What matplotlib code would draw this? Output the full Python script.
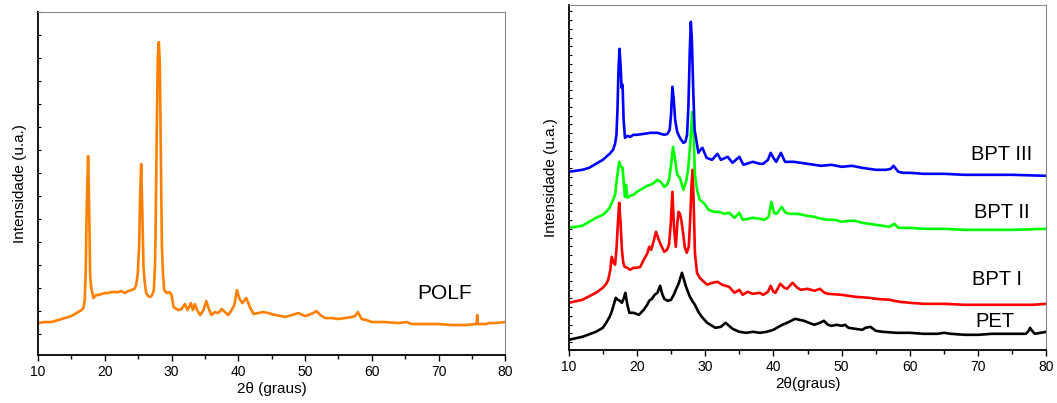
import matplotlib.pyplot as plt
import numpy as np

plt.rcParams['font.family'] = ['Liberation Sans', 'DejaVu Sans']

# ---- painel esquerdo: POLF (intensidade em unidades arbitrárias) ----
polf_x = [10, 11, 12, 13, 14, 15, 16, 16.5, 16.8, 17.0, 17.15, 17.3, 17.5, 17.65, 17.8, 17.95,
          18.3, 18.7, 19, 19.5, 20, 20.5, 21, 21.5, 22, 22.5, 23, 23.5, 24, 24.4, 24.7, 24.95,
          25.15, 25.3, 25.45, 25.6, 25.8, 26.0, 26.2, 26.5, 26.8, 27.1, 27.35, 27.55, 27.8,
          27.95, 28.1, 28.25, 28.4, 28.55, 28.7, 28.9, 29.3, 29.7, 30.0, 30.3, 31, 31.5, 32,
          32.4, 32.9, 33.2, 33.5, 33.9, 34.3, 34.8, 35.2, 35.6, 36, 36.5, 37, 37.5, 38, 38.5,
          39.0, 39.4, 39.8, 40.2, 40.6, 41.2, 41.8, 42.3, 43, 43.7, 44.5, 45.5, 46.5, 47, 48,
          49, 50, 50.5, 51.2, 51.7, 52.3, 53, 54, 55, 56, 57, 57.5, 57.9, 58.5, 59.2, 60, 62,
          64, 65.2, 66, 68, 70, 72, 74, 75.7, 75.8, 75.9, 77, 77.6, 78.5, 80]
polf_y = [32, 33, 33, 35, 37, 39, 43, 45, 47, 55, 85, 150, 199, 150, 80, 68,
          57, 60, 60, 61, 62, 62, 63, 63, 63, 64, 62, 64, 65, 66, 70, 82,
          110, 160, 191, 150, 88, 72, 62, 59, 58, 60, 65, 95, 230,
          300, 313, 290, 200, 110, 83, 65, 62, 63, 60, 48, 45, 46, 51,
          45, 52, 45, 51, 44, 40, 45, 54, 46, 40, 43, 42, 46, 43, 40,
          45, 50, 65, 56, 52, 57, 47, 41, 42, 43, 42, 40, 39, 38, 40,
          42, 39, 40, 42, 44, 40, 37, 37, 36, 37, 38, 39, 43, 36, 35, 33, 33,
          32, 33, 31, 31, 31, 30, 30, 31, 40, 31, 31, 32, 32, 33]

# ---- painel direito: PET e BPT (curvas já deslocadas) ----
pet_x = [10, 12, 14, 15, 15.5, 16, 16.3, 16.6, 16.9, 17.2, 17.5, 17.8, 18.1, 18.3, 18.6, 18.9,
         19.5, 20.3, 21, 21.5, 21.8, 22.2, 22.6, 23.0, 23.4, 23.7, 24, 24.5, 25, 25.4, 25.7,
         26.1, 26.6, 26.9, 27.2, 27.7, 28.1, 28.5, 29, 29.5, 30.3, 31, 31.5, 32.3, 33, 33.5,
         34, 35, 36, 37, 38, 39, 40, 40.5, 41.3, 42, 42.6, 43.2, 43.8, 44.5, 45.2, 46,
         46.8, 47.4, 48, 48.5, 49.3, 50, 50.5, 51, 52, 53, 53.5, 54.2, 55, 56, 58, 60, 62,
         64, 65, 66, 68, 70, 72, 74, 76, 77, 77.4, 77.6, 77.9, 78.3, 80]
pet_y = [10, 13, 18, 22, 27, 33, 38, 45, 52, 50, 49, 47, 52, 57, 45, 37,
         37, 35, 40, 45, 49, 51, 55, 57, 64, 56, 51, 49, 50, 55, 60,
         66, 77, 70, 63, 54, 49, 45, 38, 33, 27, 24, 22, 23, 27, 24,
         21, 18, 17, 18, 17, 18, 20, 22, 25, 27, 29, 31, 30, 29, 27, 25,
         27, 29, 25, 24, 25, 24, 25, 22, 21, 20, 22, 23, 19, 18, 17, 17, 16,
         16, 17, 16, 15, 15, 16, 16, 16, 16, 19, 22, 19, 16, 18]

bpt1_x = [10, 12, 14, 15, 15.5, 15.8, 16.1, 16.3, 16.6, 16.8, 17.0, 17.2, 17.4, 17.6, 17.8,
          18.0, 18.2, 18.6, 19, 19.5, 20, 20.5, 21, 21.5, 21.8, 22.1, 22.5, 22.8, 23.1, 23.5,
          24, 24.4, 24.7, 24.95, 25.2, 25.45, 25.7, 25.9, 26.1, 26.3, 26.5, 26.8, 27.0, 27.3,
          27.6, 27.8, 28.0, 28.15, 28.3, 28.5, 28.8, 29.2, 29.5, 30.3, 31, 31.8, 32.5, 33,
          33.5, 34.3, 35, 35.5, 36.2, 37, 38, 38.5, 39.2, 39.6, 40, 40.3, 41, 41.6, 42, 42.8,
          43.5, 44, 45, 46, 46.8, 47.5, 48, 50, 52, 54, 55, 57, 57.7, 58.5, 60, 62, 65, 68,
          70, 72, 75, 78, 80]
bpt1_y = [47, 50, 57, 62, 66, 70, 80, 93, 87, 85, 100, 125, 147, 128, 100,
          87, 83, 82, 80, 82, 82, 83, 90, 96, 103, 100, 110, 118, 112, 105,
          98, 100, 105, 125, 158, 120, 103, 125, 138, 136, 130, 115, 103, 97,
          103, 130, 165, 180, 150, 97, 77, 72, 70, 65, 67, 68, 65, 64,
          63, 57, 60, 55, 58, 56, 57, 55, 58, 64, 58, 57, 66, 62, 61, 67,
          62, 60, 61, 59, 61, 57, 56, 55, 53, 52, 51, 50, 49, 48, 47, 46, 46, 45,
          45, 45, 45, 45, 46]

bpt2_x = [10, 12, 14, 15, 15.5, 16, 16.5, 16.8, 17.1, 17.4, 17.6, 17.9, 18.1, 18.25, 18.4,
          18.6, 19, 19.5, 20, 20.5, 21, 21.5, 22, 22.5, 23, 23.5, 24, 24.4, 24.7, 25.0, 25.3,
          25.6, 25.9, 26.3, 26.8, 27.2, 27.5, 27.8, 28.1, 28.3, 28.5, 28.8, 29.2, 29.6, 30,
          30.5, 31.3, 32, 32.8, 33.5, 34.3, 35, 35.5, 36.3, 37, 38, 38.7, 39.3, 39.7, 40.1,
          40.5, 41.2, 41.8, 42.5, 43.5, 45, 46, 47, 48, 49, 50, 51, 52, 53, 54, 55, 56, 57,
          57.7, 58.3, 60, 62, 65, 68, 70, 75, 80]
bpt2_y = [122, 124, 132, 135, 138, 142, 150, 155, 173, 188, 184, 182, 165, 153, 165,
          152, 154, 155, 158, 160, 162, 164, 165, 167, 170, 168, 163, 165, 170, 185, 203,
          190, 175, 172, 160, 168, 180, 205, 238, 220, 175, 160, 150, 148, 145,
          140, 138, 138, 136, 137, 132, 137, 130, 131, 132, 131, 130, 133, 148, 137,
          136, 143, 137, 136, 136, 134, 133, 131, 130, 130, 128, 129, 129, 127, 126, 125, 124, 123,
          126, 122, 122, 121, 121, 120, 120, 120, 121]

bpt3_x = [10, 12, 13, 14, 15, 16, 16.5, 16.8, 17.0, 17.15, 17.3, 17.45, 17.6, 17.75, 17.9,
          18.05, 18.25, 18.6, 19, 19.5, 20, 21, 22, 23, 24, 24.5, 24.8, 25.0, 25.2, 25.4, 25.6,
          25.9, 26.3, 26.8, 27.1, 27.35, 27.55, 27.75, 27.9, 28.05, 28.25, 28.45, 28.7, 29,
          29.3, 29.6, 30.2, 31, 31.8, 32.3, 33.3, 34, 35, 35.6, 36.5, 37, 38, 38.5, 39.2, 39.6,
          40.0, 40.4, 41.1, 41.7, 43, 44, 45, 46, 47, 48.5, 50, 51.5, 53, 54, 55, 56.5, 57.2,
          57.6, 58.3, 59, 60, 62, 65, 68, 70, 75, 80]
bpt3_y = [178, 180, 182, 186, 190, 196, 200, 206, 215, 240, 280, 301, 285, 262, 265,
          230, 212, 214, 213, 215, 215, 216, 217, 217, 215, 216, 220, 235, 263, 250, 230,
          218, 212, 207, 208, 215, 245, 300, 328, 310, 260, 220, 210, 197,
          200, 202, 192, 190, 196, 190, 193, 187, 193, 185, 187, 188, 186, 186, 190, 197,
          192, 188, 197, 188, 188, 187, 186, 185, 184, 185, 183, 184, 182, 181, 180, 180, 181,
          184, 178, 177, 177, 176, 176, 175, 175, 175, 174]

# (x, y, cor, rótulo, posição x do rótulo, posição y do rótulo)
right_series = [
    (pet_x, pet_y, 'black', 'PET', 72.4, 28),
    (bpt1_x, bpt1_y, 'red', 'BPT I', 72.7, 70),
    (bpt2_x, bpt2_y, '#00ff00', 'BPT II', 73.4, 137),
    (bpt3_x, bpt3_y, 'blue', 'BPT III', 73.4, 195),
]


def style_axes(ax, ystep):
    ax.set_xlim(10, 80)
    ax.set_xticks(range(10, 81, 10))
    ax.set_xticks(range(15, 80, 10), minor=True)
    ax.tick_params(axis='x', which='major', direction='out', length=4, width=1, labelsize=10)
    ax.tick_params(axis='x', which='minor', direction='out', length=3, width=1)
    ax.set_yticks(np.arange(ystep * 0.9, ax.get_ylim()[1], ystep))
    ax.tick_params(axis='y', which='major', direction='in', length=2, width=0.8, labelleft=False)
    ax.spines['top'].set_color('#888888')
    ax.spines['right'].set_color('#888888')
    ax.spines['left'].set_linewidth(1.3)
    ax.spines['bottom'].set_linewidth(1.3)
    ax.set_ylabel('Intensidade (u.a.)', fontsize=11, labelpad=8)


fig = plt.figure(figsize=(10.57, 4.03), dpi=100)

ax1 = fig.add_axes([0.036, 0.119, 0.442, 0.851])
ax1.plot(polf_x, polf_y, color='#ff8000', lw=1.9)
ax1.set_ylim(0, 343)
style_axes(ax1, 23)
ax1.set_xlabel('2θ (graus)', fontsize=11, labelpad=2)
ax1.text(66.8, 62, 'POLF', fontsize=15, ha='left', va='center')

ax2 = fig.add_axes([0.538, 0.132, 0.452, 0.856])
for xs, ys, col, lab, lx, ly in right_series:
    ax2.plot(xs, ys, color=col, lw=1.9)
ax2.set_ylim(0, 345)
style_axes(ax2, 8.7)
ax2.set_xlabel('2θ(graus)', fontsize=11, labelpad=2)
for xs, ys, col, lab, lx, ly in right_series:
    ax2.text(lx, ly, lab, fontsize=14.5, ha='center', va='center')

fig.savefig('out.png', dpi=100)
